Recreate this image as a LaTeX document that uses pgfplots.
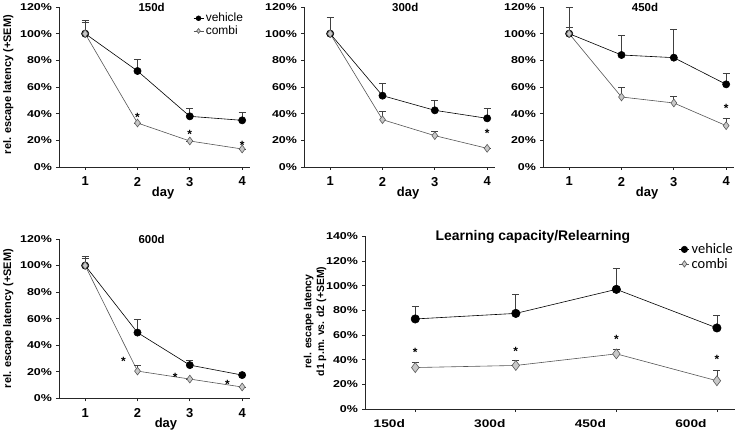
\documentclass[border=0pt]{standalone}
\usepackage{pgfplots}
\pgfplotsset{compat=1.18}
\usepackage{fontspec}
\setmainfont{Liberation Sans}
\newfontfamily\widesans[FakeStretch=1.25]{Liberation Sans}
\newfontfamily\calib{Carlito}
\definecolor{cfill}{HTML}{C8C8C8}
\definecolor{cdraw}{HTML}{5A5A5A}
\definecolor{cline}{HTML}{555555}
\definecolor{ebar}{HTML}{404040}
\tikzset{ast/.style={font=\bfseries\fontsize{12}{12}\selectfont, inner sep=0pt, yshift=-2.5bp}}
\pgfplotsset{
  every axis title shift=0pt,
  panel/.style={
    scale only axis, axis lines*=left, tick align=outside,
    major tick length=3bp,
    axis line style={line width=0.9bp, black!85},
    tick style={line width=0.8bp, black!85},
    /pgf/number format/assume math mode=true,
    ymin=0, ymax=120, ytick={0,20,...,120},
    yticklabel={\pgfmathprintnumber{\tick}\%},
    xmin=0.5, xmax=4.15, xtick={1,2,3,4},
    yticklabel style={font=\widesans\bfseries\fontsize{10}{11}\selectfont, xshift=-0.5bp},
    xticklabel style={font=\bfseries\fontsize{13}{14}\selectfont, yshift=-3.5bp},
    xlabel style={font=\bfseries\fontsize{13}{14}\selectfont, anchor=center},
    ylabel style={font=\bfseries\fontsize{11}{12}\selectfont, anchor=center, rotate=0},
    title style={font=\bfseries\fontsize{11.5}{12}\selectfont, anchor=center, inner sep=0pt},
    clip=false,
  },
  veh/.style={black, line width=0.6bp, mark=*, mark size=3.6bp,
    mark options={fill=black, draw=black, solid},
    error bars/y dir=plus, error bars/y explicit,
    error bars/error bar style={line width=0.8bp, ebar},
    error bars/error mark options={rotate=90, mark size=3.5bp, line width=0.8bp, ebar}},
  comb/.style={cline, line width=0.6bp, mark=diamond*, mark size=3.9bp,
    mark options={fill=cfill, draw=cdraw, solid, line width=0.6bp},
    error bars/y dir=plus, error bars/y explicit,
    error bars/error bar style={line width=0.8bp, ebar},
    error bars/error mark options={rotate=90, mark size=3.5bp, line width=0.8bp, ebar}},
}
\pgfplotstableread{
x y e
1 100 10
2 72 9
3 38 6
4 35 6
}\vehA
\pgfplotstableread{
x y e
1 100 8.5
2 33 0
3 19.5 0
4 13.5 0
}\comA
\pgfplotstableread{
x y e
1 100 12
2 53.5 9
3 42.5 7.5
4 36.5 7.5
}\vehB
\pgfplotstableread{
x y e
1 100 0
2 35.5 6.5
3 23.5 3.5
4 14 0
}\comB
\pgfplotstableread{
x y e
1 100 20
2 84 15
3 82 21
4 62 8.5
}\vehC
\pgfplotstableread{
x y e
1 100 5
2 52.5 7
3 48 5
4 31 5.5
}\comC
\pgfplotstableread{
x y e
1 100 7
2 49.5 10
3 25 3.5
4 17.5 0
}\vehD
\pgfplotstableread{
x y e
1 100 5.5
2 20.5 4.5
3 14.5 0
4 8.5 0
}\comD
\pgfplotstableread{
x y e
0 73 10
1 77.5 15
2 97 17
3 65.7 10
}\vehE
\pgfplotstableread{
x y e
0 33.6 3.9
1 35.3 3.7
2 44.7 4
3 22.9 8.3
}\comE
\begin{document}
\begin{tikzpicture}
\useasboundingbox (0bp,0bp) rectangle (738bp,432bp);
% ---------- 150d
\begin{axis}[panel, at={(59bp,265bp)}, anchor=south west, width=191bp, height=160bp,
  title={150d}, title style={at={(axis description cs:0.485,0.995)}},
  xlabel={day}, xlabel style={at={(axis description cs:0.545,-0.165)}},
  ylabel={rel. escape latency (+SEM)}, ylabel style={at={(axis description cs:-0.265,0.515)}},
  legend style={draw=none, fill=none, font=\fontsize{12}{13}\selectfont,
    at={(axis description cs:0.975,0.975)}, anchor=north east, inner sep=0pt,
    row sep=-1.5bp, legend cell align=left},
  legend image code/.code={\draw[mark repeat=2,mark phase=2] plot coordinates {(0bp,0bp) (5bp,0bp) (10bp,0bp)};},
  legend image post style={mark size=2.4bp},
]
\addplot[veh] table[x=x, y=y, y error=e] {\vehA};
\addplot[comb] table[x=x, y=y, y error=e] {\comA};
\legend{vehicle, combi}
\node[ast] at (axis cs:2,39) {*};
\node[ast] at (axis cs:3,26) {*};
\node[ast] at (axis cs:4,18) {*};
\end{axis}
% ---------- 300d
\begin{axis}[panel, at={(304bp,265bp)}, anchor=south west, width=191bp, height=160bp,
  title={300d}, title style={at={(axis description cs:0.53,0.995)}},
  xlabel={day}, xlabel style={at={(axis description cs:0.545,-0.165)}},
]
\addplot[veh] table[x=x, y=y, y error=e] {\vehB};
\addplot[comb] table[x=x, y=y, y error=e] {\comB};
\node[ast] at (axis cs:4,27) {*};
\end{axis}
% ---------- 450d
\begin{axis}[panel, at={(543bp,265bp)}, anchor=south west, width=191bp, height=160bp,
  title={450d}, title style={at={(axis description cs:0.534,0.995)}},
  xlabel={day}, xlabel style={at={(axis description cs:0.545,-0.165)}},
]
\addplot[veh] table[x=x, y=y, y error=e] {\vehC};
\addplot[comb] table[x=x, y=y, y error=e] {\comC};
\node[ast] at (axis cs:4,45.7) {*};
\end{axis}
% ---------- 600d
\begin{axis}[panel, at={(59bp,33.7bp)}, anchor=south west, width=191bp, height=159.3bp,
  title={600d}, title style={at={(axis description cs:0.485,1.0)}},
  xlabel={day}, xlabel style={at={(axis description cs:0.56,-0.162)}},
  ylabel={rel. escape latency (+SEM)}, ylabel style={at={(axis description cs:-0.265,0.5)}},
]
\addplot[veh] table[x=x, y=y, y error=e] {\vehD};
\addplot[comb] table[x=x, y=y, y error=e] {\comD};
\node[ast] at (axis cs:1.73,29.6) {*};
\node[ast] at (axis cs:2.72,18) {*};
\node[ast] at (axis cs:3.72,12.5) {*};
\end{axis}
% ---------- Learning capacity
\begin{axis}[panel, at={(365bp,23bp)}, anchor=south west, width=370bp, height=172.7bp,
  ymin=0, ymax=140, ytick={0,20,...,140},
  xmin=-0.5, xmax=3.18, xtick={0,1,2,3}, xticklabels={150d,300d,450d,600d},
  xticklabel style={font=\widesans\bfseries\fontsize{11}{12}\selectfont, yshift=-3bp, xshift=-26bp, inner sep=1bp},
  title={Learning capacity/Relearning}, title style={at={(axis description cs:0.454,0.995)}, font=\bfseries\fontsize{14}{15}\selectfont},
  ylabel={rel. escape latency\\d1 p.m. vs. d2 (+SEM)},
  ylabel style={at={(axis description cs:-0.135,0.507)}, align=center, font=\bfseries\fontsize{10.5}{13}\selectfont},
  legend style={draw=none, fill=none, font=\calib\fontsize{14.5}{14.5}\selectfont,
    at={(axis description cs:1.0,0.97)}, anchor=north east, inner sep=0pt,
    row sep=-1bp, legend cell align=left},
  legend image code/.code={\draw[mark repeat=2,mark phase=2] plot coordinates {(0bp,0bp) (5bp,0bp) (10bp,0bp)};},
  legend image post style={mark size=3.2bp},
]
\addplot[veh, mark size=4.2bp] table[x=x, y=y, y error=e] {\vehE};
\addplot[comb, mark size=5bp] table[x=x, y=y, y error=e] {\comE};
\legend{vehicle, combi}
\node[ast] at (axis cs:0,48) {*};
\node[ast] at (axis cs:1,49) {*};
\node[ast] at (axis cs:2,58.5) {*};
\node[ast] at (axis cs:3,42) {*};
\end{axis}
\end{tikzpicture}
\end{document}
